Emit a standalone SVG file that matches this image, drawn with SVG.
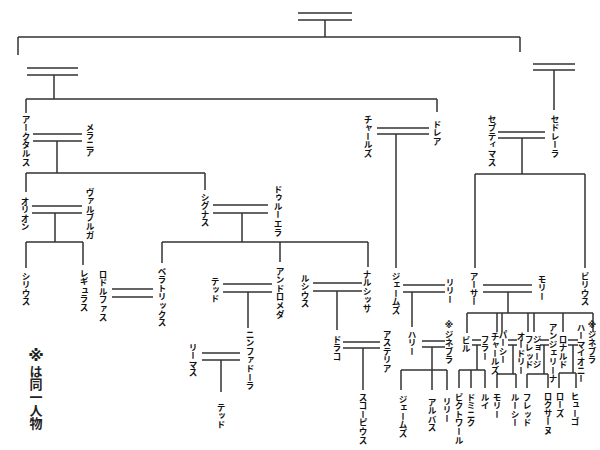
<svg xmlns="http://www.w3.org/2000/svg" width="600" height="450" viewBox="0 0 600 450">
<style>
.l{stroke:#333;stroke-width:1.5;fill:none}
text{font-family:"Noto Sans CJK JP","Noto Sans CJK SC",sans-serif;font-size:8.6px;writing-mode:vertical-rl;fill:#111;font-weight:bold}
.up{text-orientation:upright}
.big{font-size:13px;font-weight:bold;fill:#222}
.k{font-family:"DejaVu Sans","Noto Sans CJK JP",sans-serif;font-weight:bold}
.kb{font-size:16px}
</style>
<rect width="600" height="450" fill="#fff"/>
<g id="connectors" class="l">
<path d="M298 13H352M298 20H352M325 20V37M18 37H520M18 37V55M520 37V52"/>
<path d="M27 68H78M27 75H78M54 75V99M26 99H437M26 99V113M437 99V112"/>
<path d="M533 64H575M533 70H575M554 70V110"/>
<path d="M33 134H82M33 141H82M57 141V173M26 173H205M26 173V192M205 173V190"/>
<path d="M32 206H82M32 213H82M55 213V242M26 242H83M26 242V268M83 242V265"/>
<path d="M112 289H153M112 297H153"/>
<path d="M213 205H268M213 213H268M242 213V242M162 242H368M162 242V263M280 242V262M368 242V267"/>
<path d="M223 284H272M223 292H272M248 292V328"/>
<path d="M202 353H240M202 360H240M221 360V392"/>
<path d="M313 283H362M313 291H362M337 291V330"/>
<path d="M343 342H380M343 348H380M363 348V390"/>
<path d="M377 128H429M377 134H429M396 134V268"/>
<path d="M403 285H445M403 292H445M412 292V327"/>
<path d="M422 341H445M422 347H445M432 347V370M401 370H447M401 370V390M432 370V390M447 370V390"/>
<path d="M498 132H545M498 138H545M522 138V174M475 174H585M475 174V268M585 174V268"/>
<path d="M483 285H532M483 292H532M508 292V313M467 313H593M467 313V333M497 313V332M502 313V332M528 313V332M534 313V332M563 313V332M593 313V332"/>
<path d="M472 340H481M472 345H481M477 345V370M459 370H485M459 370V388M471 370V388M485 370V388"/>
<path d="M508 340H517M508 345H517M513 345V374M497 374H516M497 374V388M516 374V388"/>
<path d="M540 340H549M540 345H549M544 345V374M527 374H548M527 374V388M548 374V388"/>
<path d="M568 340H578M568 345H578M573 345V373M559 373H576M559 373V388M576 373V388"/>
</g>
<g id="arcturus"><text x="26" y="115">アークタルス</text></g>
<g id="melania"><text x="90" y="123">メラニア</text></g>
<g id="orion"><text x="25" y="197">オリオン</text></g>
<g id="walburga"><text x="90" y="188">ヴァルブルガ</text></g>
<g id="sirius"><text x="26" y="272">シリウス</text></g>
<g id="regulus"><text x="84" y="269">レギュラス</text></g>
<g id="rodolphus"><text x="103" y="270">ロドルファス</text></g>
<g id="bellatrix"><text x="162" y="267">ベラトリックス</text></g>
<g id="cygnus"><text x="205" y="193">シグナス</text></g>
<g id="druella"><text x="278" y="185">ドゥルーエラ</text></g>
<g id="ted"><text x="215" y="277">テッド</text></g>
<g id="andromeda"><text x="280" y="267">アンドロメダ</text></g>
<g id="lucius"><text x="305" y="274">ルシウス</text></g>
<g id="narcissa"><text x="367" y="270">ナルシッサ</text></g>
<g id="nymphadora"><text x="250" y="330">ニンファドーラ</text></g>
<g id="remus"><text x="193" y="343">リーマス</text></g>
<g id="teddy"><text x="221" y="403">テッド</text></g>
<g id="draco"><text x="337" y="335">ドラコ</text></g>
<g id="astoria"><text x="387" y="330">アステリア</text></g>
<g id="scorpius"><text x="363" y="393">スコーピウス</text></g>
<g id="charlus"><text x="368" y="115">チャールズ</text></g>
<g id="dorea"><text x="437" y="120">ドレア</text></g>
<g id="james"><text x="396" y="272">ジェームズ</text></g>
<g id="lily"><text x="450" y="278">リリー</text></g>
<g id="harry"><text x="412" y="330">ハリー</text></g>
<g id="ginny1"><text class="up" x="449" y="320"><tspan class="k">※</tspan>ジネブラ</text></g>
<g id="james2"><text x="403" y="395">ジェームズ</text></g>
<g id="albus"><text x="432" y="398">アルバス</text></g>
<g id="lily2"><text x="447" y="397">リリー</text></g>
<g id="septimus"><text x="492" y="115">セプティマス</text></g>
<g id="cedrella"><text x="555" y="115">セドレーラ</text></g>
<g id="arthur"><text x="474" y="272">アーサー</text></g>
<g id="molly"><text x="542" y="275">モリー</text></g>
<g id="bilius"><text x="585" y="272">ビリウス</text></g>
<g id="bill"><text x="466" y="336">ビル</text></g>
<g id="fleur"><text x="485" y="335">フラー</text></g>
<g id="charlie"><text x="495" y="332">チャールズ</text></g>
<g id="percy"><text x="503" y="330">パーシー</text></g>
<g id="audrey"><text x="521" y="332">オードリー</text></g>
<g id="fred"><text x="529" y="335">フレッド</text></g>
<g id="george"><text x="537" y="335">ジョージ</text></g>
<g id="angelina"><text x="553" y="323">アンジェリーナ</text></g>
<g id="ron"><text x="563" y="335">ロナルド</text></g>
<g id="hermione"><text x="581" y="323">ハーマイオニー</text></g>
<g id="ginny2"><text class="up" x="592" y="320"><tspan class="k">※</tspan>ジネブラ</text></g>
<g id="victoire"><text x="459" y="393">ビクトワール</text></g>
<g id="dominique"><text x="471" y="393">ドミニク</text></g>
<g id="louis"><text x="485" y="393">ルイ</text></g>
<g id="molly2"><text x="497" y="393">モリー</text></g>
<g id="lucy"><text x="515" y="393">ルーシー</text></g>
<g id="fred2"><text x="527" y="393">フレッド</text></g>
<g id="roxanne"><text x="548" y="392">ロクサーヌ</text></g>
<g id="rose"><text x="560" y="392">ローズ</text></g>
<g id="hugo"><text x="575" y="392">ヒューゴ</text></g>
<g id="note"><text class="big up" x="36" y="346"><tspan class="k kb">※</tspan>は同一人物</text></g>
</svg>
